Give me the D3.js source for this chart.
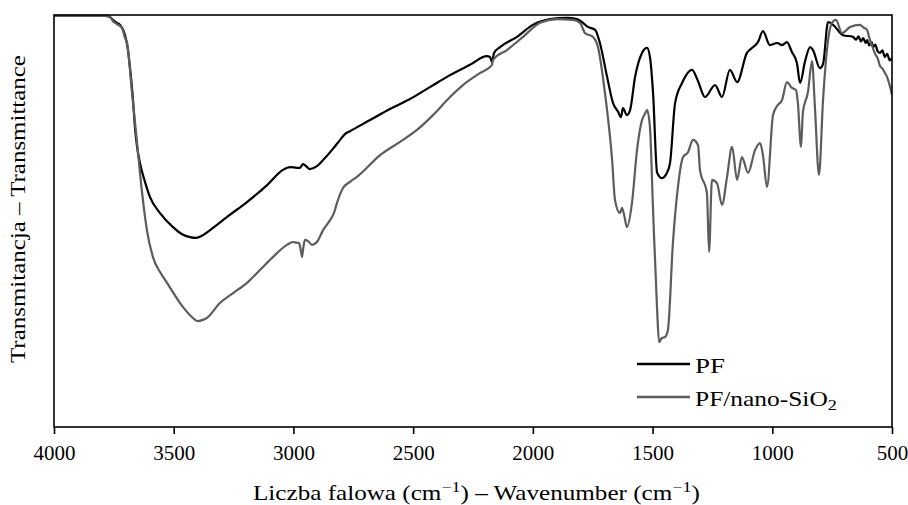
<!DOCTYPE html>
<html><head><meta charset="utf-8">
<script src="https://cdn.jsdelivr.net/npm/d3@7"></script>
<style>body{margin:0;background:#fff} text{font-family:"Liberation Serif","Times New Roman",serif;fill:#000}</style>
</head><body><svg id="c" width="908" height="505"></svg>
<script>
const xTicks = [4000,3500,3000,2500,2000,1500,1000,500];
const seriesNames = ["PF", "PF/nano-SiO2"];
const xTitle = "Liczba falowa";
const yTitle = "Transmitancja – Transmittance";

// PF: [wavenumber cm^-1, transmittance (a.u., 0-100)]
const pf = [
[4000,99.8],[3890,99.8],[3787,99.8],[3766,99.5],[3754,98.8],[3737,98.1],[3724,97.6],[3703,95.1],[3691,91.5],[3683,87.4],
[3670,79.4],[3662,72.8],[3653,68.0],[3641,64.1],[3620,59.5],[3599,55.8],[3557,51.9],[3503,48.5],[3465,46.8],[3432,46.1],
[3407,45.9],[3382,46.4],[3348,47.8],[3277,51.0],[3194,54.6],[3110,58.7],[3044,62.4],[3014,63.1],[2985,62.9],[2973,62.9],
[2960,63.8],[2947,63.3],[2931,62.6],[2902,63.3],[2876,64.8],[2835,67.5],[2805,69.7],[2785,71.1],[2764,71.8],[2680,74.5],
[2597,77.2],[2513,79.6],[2430,82.5],[2346,85.4],[2263,87.9],[2192,90.0],[2179,89.8],[2171,88.6],[2162,90.8],[2137,92.2],
[2066,94.7],[2000,97.6],[1928,99.0],[1857,99.3],[1816,99.0],[1791,98.1],[1770,97.1],[1740,96.4],[1720,93.2],[1690,85.0],
[1665,78.6],[1644,76.5],[1632,75.2],[1624,77.4],[1607,75.7],[1594,76.9],[1573,85.0],[1544,90.8],[1523,92.0],[1511,89.8],
[1498,81.1],[1481,61.7],[1461,60.4],[1440,61.7],[1427,64.1],[1406,78.6],[1377,83.5],[1335,86.7],[1310,83.9],[1281,80.1],
[1239,83.0],[1210,80.1],[1177,86.7],[1147,83.7],[1106,90.8],[1085,92.0],[1060,93.4],[1039,96.1],[1010,92.7],[980,93.2],
[959,92.7],[939,93.4],[918,91.0],[897,88.3],[884,83.5],[863,88.8],[842,92.2],[830,91.5],[801,87.1],[788,88.1],
[767,98.3],[746,97.6],[705,95.1],[663,94.7],[650,94.0],[640,94.8],[630,93.6],[620,94.4],[610,93.2],[604,93.9],
[595,92.6],[585,93.4],[579,92.2],[570,92.8],[560,91.2],[550,90.8],[540,91.4],[530,89.8],[520,90.6],[510,89.0],[500,89.6]
];

// PF/nano-SiO2
const pfSiO2 = [
[4000,99.8],[3787,99.8],[3766,99.5],[3754,98.5],[3737,97.8],[3716,96.8],[3703,94.4],[3695,93.2],[3674,81.1],[3653,68.9],
[3632,56.8],[3612,47.8],[3587,41.3],[3557,37.6],[3528,35.0],[3461,29.1],[3424,26.7],[3399,25.7],[3378,26.0],[3361,26.5],
[3307,30.1],[3252,32.5],[3194,35.0],[3140,38.1],[3085,41.3],[3027,44.2],[3002,44.9],[2985,44.7],[2977,44.7],[2968,42.5],
[2964,41.3],[2960,43.0],[2952,45.4],[2939,45.1],[2922,44.2],[2902,44.9],[2876,47.8],[2847,50.2],[2831,51.9],[2818,54.4],
[2793,58.0],[2764,59.5],[2735,60.7],[2638,66.0],[2555,69.2],[2484,72.1],[2417,75.7],[2346,80.1],[2292,83.0],[2221,85.9],
[2179,87.4],[2171,87.9],[2166,89.1],[2108,91.5],[2041,94.7],[1970,98.1],[1899,99.0],[1832,98.8],[1803,98.1],[1782,95.6],
[1749,94.7],[1728,92.2],[1699,81.1],[1669,64.8],[1657,55.1],[1636,51.9],[1628,53.2],[1619,51.5],[1607,48.5],[1586,54.4],
[1565,67.2],[1544,74.5],[1532,76.0],[1523,76.9],[1511,72.8],[1498,52.7],[1481,28.4],[1473,20.6],[1461,21.6],[1449,21.8],
[1436,23.5],[1415,44.7],[1394,58.3],[1373,65.5],[1352,66.7],[1331,69.7],[1310,68.4],[1302,62.4],[1273,56.8],[1264,42.5],
[1252,60.0],[1231,59.2],[1210,53.9],[1189,60.7],[1168,68.0],[1147,60.0],[1127,65.5],[1101,61.7],[1072,67.2],[1051,68.9],
[1039,66.0],[1022,58.3],[997,75.7],[980,77.9],[959,79.4],[939,83.7],[918,82.3],[901,81.8],[893,78.6],[880,68.0],
[872,76.5],[851,81.3],[834,88.8],[822,77.7],[805,61.2],[788,79.4],[767,93.9],[751,98.1],[734,98.8],[709,95.6],
[675,97.1],[634,97.6],[620,97.0],[604,96.4],[595,94.5],[583,92.5],[570,90.5],[560,89.5],[550,87.6],[540,87.0],
[530,86.0],[521,85.0],[510,83.0],[500,80.6]
];

const colors = ["#000000", "#5c5c5c"];
const L = 54, R = 892, T = 15, B = 427;

const svg = d3.select("#c");
const x = d3.scaleLinear().domain([4000, 500]).range([L, R]);
const y = d3.scaleLinear().domain([0, 100]).range([B, T]);

svg.append("clipPath").attr("id","clip").append("rect")
  .attr("x", L).attr("y", T - 2).attr("width", R - L).attr("height", B - T + 2);

const line = d3.line().x(d => x(d[0])).y(d => y(d[1])).curve(d3.curveMonotoneX);

const g = svg.append("g").attr("clip-path","url(#clip)");
[pf, pfSiO2].forEach((s, i) => {
  g.append("path").datum(s).attr("d", line)
    .attr("fill","none").attr("stroke", colors[i])
    .attr("stroke-width", 2.2).attr("stroke-linejoin","round");
});

// axis
const ax = svg.append("g").attr("transform", `translate(0,${B})`)
  .call(d3.axisBottom(x).tickValues(xTicks).tickFormat(d3.format("d"))
    .tickSize(7).tickSizeOuter(0).tickPadding(11));
ax.attr("font-family", null).attr("font-size", null);
ax.select(".domain").remove();
ax.selectAll(".tick line").attr("stroke","#000").attr("stroke-width",1.6);
ax.selectAll(".tick text").style("font-size","21px")
  .style("font-family", "'Liberation Serif','Times New Roman',serif");

// frame
svg.append("rect").attr("x", L).attr("y", T).attr("width", R - L).attr("height", B - T)
  .attr("fill","none").attr("stroke","#000").attr("stroke-width",1.6);

// stretch helper: scale a text along its own direction to a target width, anchored at start
function fitWidth(sel, target, anchorX) {
  const w = sel.node().getComputedTextLength();
  const s = target / w;
  sel.attr("transform", `translate(${anchorX},0) scale(${s},1) translate(${-anchorX},0)`);
}

// x title
const xt = svg.append("text").attr("x", 253).attr("y", 500).style("font-size","21px");
xt.append("tspan").text(xTitle + " (cm");
xt.append("tspan").attr("dy", -8).style("font-size","15px").text("−1");
xt.append("tspan").attr("dy", 8).text(") – Wavenumber (cm");
xt.append("tspan").attr("dy", -8).style("font-size","15px").text("−1");
xt.append("tspan").attr("dy", 8).text(")");
fitWidth(xt, 447, 253);

// y title (rotated)
const ytG = svg.append("g").attr("transform", `translate(25,363) rotate(-90)`);
const yt = ytG.append("text").attr("x", 0).attr("y", 0).style("font-size","21px").text(yTitle);
fitWidth(yt, 308, 0);

// legend
const leg = [{y: 364}, {y: 397}];
leg.forEach((l, i) => {
  svg.append("line").attr("x1", 637).attr("x2", 690).attr("y1", l.y).attr("y2", l.y)
    .attr("stroke", colors[i]).attr("stroke-width", 2.4);
});
const t1 = svg.append("text").attr("x", 695).attr("y", 373).style("font-size","21px").text(seriesNames[0]);
fitWidth(t1, 30, 695);
const t2 = svg.append("text").attr("x", 695).attr("y", 406).style("font-size","21px");
t2.append("tspan").text(seriesNames[1].slice(0, -1));
t2.append("tspan").attr("dy", 4).style("font-size","15px").text(seriesNames[1].slice(-1));
fitWidth(t2, 142, 695);
</script>
</body></html>
